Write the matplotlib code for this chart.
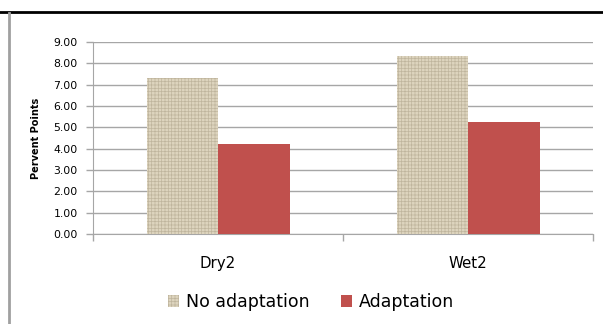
import numpy as np
import matplotlib
matplotlib.use("Agg")
import matplotlib.pyplot as plt
from matplotlib.lines import Line2D

categories = ["Dry2", "Wet2"]
no_adaptation = [7.30, 8.33]
adaptation = [4.20, 5.27]
yticks = np.arange(0, 9.01, 1.0)

BEIGE = "#DDD4BE"
LINEN = "#BFB59D"
RED = "#C0504D"
GRID = "#A6A6A6"

plt.rcParams["hatch.linewidth"] = 0.5
fig = plt.figure(figsize=(6.03, 3.24), dpi=100)
ax = fig.add_axes([93/603, 1-234/324, 500/603, 192/324])

x = np.arange(len(categories))
w = 0.286
ax.bar(x - w/2, no_adaptation, w, color=BEIGE, edgecolor=LINEN, hatch="+++++",
       linewidth=0, label="No adaptation", zorder=3)
ax.bar(x + w/2, adaptation, w, color=RED, linewidth=0, label="Adaptation", zorder=3)

ax.set_xlim(-0.5, 1.5)
ax.set_ylim(0, 9)
ax.set_yticks(yticks)
ax.set_yticklabels(["%.2f" % v for v in yticks], fontsize=7.8)
ax.set_xticks([-0.5, 0.5, 1.5])
ax.set_xticklabels([])
ax.set_xticks(x, minor=True)
ax.set_xticklabels(categories, minor=True, fontsize=10.8)
ax.tick_params(axis="x", which="minor", length=0, pad=16)
ax.tick_params(axis="x", which="major", length=5, color=GRID, width=1)
ax.tick_params(axis="y", length=5, color=GRID, width=1, pad=6)
ax.yaxis.grid(True, color=GRID, linewidth=1, zorder=0)
for s in ("top", "right"):
    ax.spines[s].set_visible(False)
for s in ("left", "bottom"):
    ax.spines[s].set_color(GRID)
ax.set_ylabel("Pervent Points", fontsize=7, fontweight="bold", labelpad=9)

handles, labels = ax.get_legend_handles_labels()
fig.legend(handles, labels, loc="center", bbox_to_anchor=(0.516, 1-302/324),
           ncol=2, frameon=False, fontsize=12.5, handlelength=0.65,
           handleheight=0.65, handletextpad=0.4, columnspacing=1.8)

fig.add_artist(Line2D([0, 1], [1-12/324, 1-12/324], color="black", lw=2))
fig.add_artist(Line2D([9/603, 9/603], [0, 1-13/324], color="#A0A0A0", lw=2))

fig.savefig("out.png", dpi=100)
